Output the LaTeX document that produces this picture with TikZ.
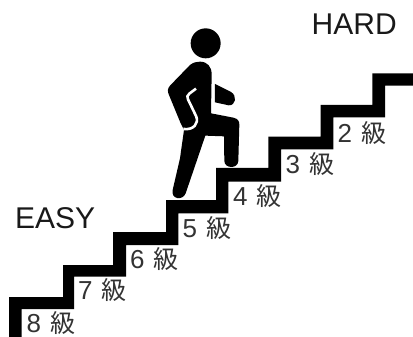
\documentclass[tikz,border=0pt]{standalone}
\usepackage{fontspec}
\setmainfont{Liberation Sans}
\newfontfamily\cjk{Noto Sans CJK JP}
\tikzset{
  stair/.style={fill=black,draw=none},
  body/.style={fill=black,draw=none},
  title/.style={anchor=base west,inner sep=0pt,text=black!90,font=\fontsize{30}{30}\selectfont},
  grade/.style={anchor=base west,inner sep=0pt,text=black!80,font=\fontsize{26}{26}\selectfont},
}
\newcommand{\kyu}[1]{#1\hspace{9pt}{\cjk\fontsize{25}{25}\selectfont 級}}
\begin{document}
\begin{tikzpicture}[x=1pt,y=-1pt]
\useasboundingbox (0,0) rectangle (413,337);
\fill[white] (0,0) rectangle (413,337);
% stairs
\fill[stair] (9,337) -- (9,297) -- (63,297) -- (63,265) -- (113,265) -- (113,232) -- (166,232) -- (166,200) -- (216,200) -- (216,168) -- (268.3,168) -- (268.3,136.7) -- (320.7,136.7) -- (320.7,105) -- (372.3,105) -- (372.3,73.3) -- (413,73.3) -- (413,85.7) -- (385,85.7) -- (385,117.3) -- (333.3,117.3) -- (333.3,149.3) -- (281,149.3) -- (281,181.7) -- (228.3,181.7) -- (228.3,213.3) -- (178.3,213.3) -- (178.3,245) -- (126,245) -- (126,276.7) -- (74,276.7) -- (74,309) -- (21.7,309) -- (21.7,337) -- cycle;
% person, drawn in 3x crop coordinates
\begin{scope}[shift={(150,15)},x=0.3333pt,y=-0.3333pt]
\fill[body] (167,85) circle (45);
\fill[body] (150,140) .. controls (172,140) and (185,155) .. (185,178) -- (183,295) -- (250,308) .. controls (263,311) and (269,318) .. (268,330) -- (265,438) .. controls (264,462) and (224,462) .. (223,438) -- (222,364) -- (166,362) -- (107,535) .. controls (98,558) and (62,553) .. (68,525) -- (90,430) -- (102,345) .. controls (98,338) and (95,330) .. (92,325) -- (57,240) .. controls (52,228) and (52,222) .. (60,212) -- (120,150) .. controls (130,142) and (140,140) .. (150,140) -- cycle;
\fill[body] (195,207) -- (243,231) .. controls (262,242) and (258,272) .. (236,271) -- (195,262) -- cycle;
\draw[white,line width=2.6pt] (138,221) -- (118,236) .. controls (111,241) and (111,246) .. (114,253) -- (139,305) .. controls (146,325) and (132,346) .. (100,342);
\end{scope}
% labels
\node[title] (easy) at (15,228.5) {EASY};
\node[title] (hard) at (311.5,35) {HARD};
\node[grade] (g8) at (26.5,332) {\kyu{8}};
\node[grade] (g7) at (78,299) {\kyu{7}};
\node[grade] (g6) at (130,268) {\kyu{6}};
\node[grade] (g5) at (182.5,237) {\kyu{5}};
\node[grade] (g4) at (233,205) {\kyu{4}};
\node[grade] (g3) at (285.5,173) {\kyu{3}};
\node[grade] (g2) at (337.5,142.5) {\kyu{2}};
\end{tikzpicture}
\end{document}
